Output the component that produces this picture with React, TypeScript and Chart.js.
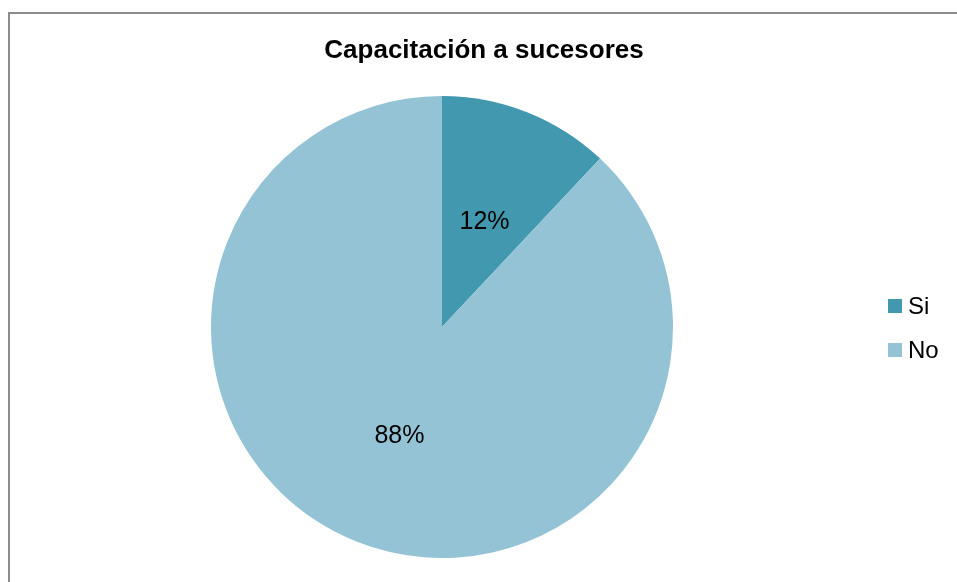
import React, { useEffect, useRef } from "react";
import { Chart, registerables } from "chart.js";

Chart.register(...registerables);

const chartTitle = "Capacitación a sucesores";
const categories = ["Si", "No"];
const values = [12, 88];
const sliceColors = ["#4198AF", "#93C3D4"];

const FONT = "'Liberation Sans', Arial, sans-serif";

const overlayPlugin = {
  id: "overlay",
  afterDraw(chart: any) {
    const ctx = chart.ctx as CanvasRenderingContext2D;
    const meta = chart.getDatasetMeta(0);
    const ds = chart.data.datasets[0];
    const total = (ds.data as number[]).reduce((a, b) => a + b, 0);
    ctx.save();
    // Title
    ctx.fillStyle = "#000";
    ctx.font = `bold 26px ${FONT}`;
    ctx.textAlign = "center";
    ctx.textBaseline = "middle";
    ctx.fillText(chartTitle, 484, 51);
    // Percentage labels inside slices
    ctx.font = `25px ${FONT}`;
    meta.data.forEach((arc: any, i: number) => {
      const mid = (arc.startAngle + arc.endAngle) / 2;
      const r = arc.outerRadius * 0.5;
      const x = arc.x + Math.cos(mid) * r;
      const y = arc.y + Math.sin(mid) * r + 2;
      const pct = Math.round(((ds.data[i] as number) / total) * 100) + "%";
      ctx.fillText(pct, x, y);
    });
    // Legend
    ctx.font = `24px ${FONT}`;
    ctx.textAlign = "left";
    const labels = chart.data.labels as string[];
    labels.forEach((lab, i) => {
      const cy = 306 + i * 44;
      ctx.fillStyle = (ds.backgroundColor as string[])[i];
      ctx.fillRect(888, cy - 7, 14, 14);
      ctx.fillStyle = "#000";
      ctx.fillText(lab, 908, cy + 1);
    });
    ctx.restore();
  },
};

export default function App() {
  const ref = useRef<HTMLCanvasElement | null>(null);
  useEffect(() => {
    if (!ref.current) return;
    const chart = new Chart(ref.current, {
      type: "pie",
      data: {
        labels: categories,
        datasets: [
          {
            data: values,
            backgroundColor: sliceColors,
            borderWidth: 0,
          },
        ],
      },
      options: {
        responsive: false,
        animation: false,
        devicePixelRatio: 1,
        layout: { padding: { top: 96, bottom: 24, left: 211, right: 284 } },
        plugins: {
          legend: { display: false },
          title: { display: false },
          tooltip: { enabled: false },
        },
      },
      plugins: [overlayPlugin],
    });
    return () => chart.destroy();
  }, []);
  return (
    <div
      style={{
        position: "fixed",
        left: 0,
        top: 0,
        width: 957,
        height: 582,
        overflow: "hidden",
        background: "#fff",
      }}
    >
      <div
        style={{
          position: "absolute",
          left: 8,
          top: 12,
          width: 1200,
          height: 1200,
          borderLeft: "2px solid #8c8c8c",
          borderTop: "2px solid #8c8c8c",
        }}
      />
      <canvas
        ref={ref}
        width={957}
        height={582}
        style={{ position: "absolute", left: 0, top: 0, width: 957, height: 582 }}
      />
    </div>
  );
}
